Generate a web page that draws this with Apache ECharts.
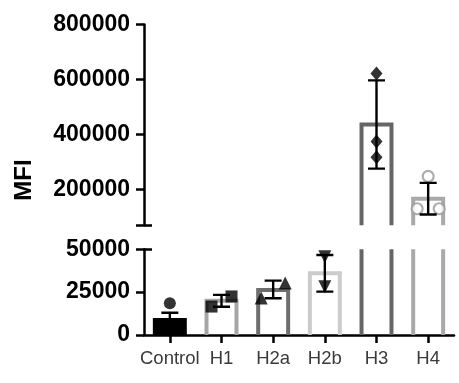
<!DOCTYPE html>
<html>
<head>
<meta charset="utf-8">
<script src="https://cdn.jsdelivr.net/npm/echarts@6/dist/echarts.min.js"></script>
<style>
html,body{margin:0;padding:0;background:#fff;}
#chart{width:459px;height:383px;}
</style>
</head>
<body>
<div id="chart"></div>
<script>
const categories = ['Control', 'H1', 'H2a', 'H2b', 'H3', 'H4'];
const barMeans = [8800, 20000, 26300, 36000, 436000, 166000];
const errLow = [4800, 16500, 21400, 25300, 276000, 109000];
const errHigh = [13000, 23400, 31700, 46700, 597000, 224000];
const pointsControl = [18500, 4000, 4000];
const pointsH1 = [16600, 22500];
const pointsH2a = [21600, 30400];
const pointsH2b = [45700, 28200];
const pointsH3 = [622000, 375000, 317000];
const pointsH4 = [248000, 130000, 130000];
const topTicks = [200000, 400000, 600000, 800000];
const bottomTicks = [0, 25000, 50000];
const topMin = 70000, topMax = 800000;
const bottomMin = 0, bottomMax = 50000;

const FONT = "'Liberation Sans', Arial, sans-serif";
const barColors = ['#000000', '#a6a6a6', '#6e6e6e', '#cccccc', '#666666', '#a9a9a9'];
const pointGroups = [pointsControl, pointsH1, pointsH2a, pointsH2b, pointsH3, pointsH4];
const jitter = [[0, -8, 8], [-10, 10], [-12, 12], [0, 0], [0, 0, 0], [0, -11, 11]];
const symbolStyle = [
  { symbol: 'circle', size: 12, rotate: 0, style: { color: '#000' } },
  { symbol: 'rect', size: 12, rotate: 0, style: { color: '#000' } },
  { symbol: 'triangle', size: 13, rotate: 0, style: { color: '#000' } },
  { symbol: 'triangle', size: 13, rotate: 180, style: { color: '#000' } },
  { symbol: 'diamond', size: [12, 14], rotate: 0, style: { color: '#000' } },
  { symbol: 'circle', size: 11, rotate: 0, style: { color: '#fff', borderColor: '#9a9a9a', borderWidth: 2.2 } }
];

const barData = categories.map((c, i) => [i, barMeans[i]]);
const errData = categories.map((c, i) => [i, errLow[i], errHigh[i]]);
const scatterData = [];
pointGroups.forEach((pts, i) => {
  pts.forEach((v, k) => {
    const s = symbolStyle[i];
    scatterData.push({
      value: [i, v],
      symbol: s.symbol,
      symbolSize: s.size,
      symbolRotate: s.rotate,
      symbolOffset: [jitter[i][k], 0],
      itemStyle: s.style
    });
  });
});

function renderBar(params, api) {
  const i = api.value(0);
  const base = api.coord([i, 0]);
  const top = api.coord([i, api.value(1)]);
  const bw = api.size([1, 0])[0] * 0.58;
  const x0 = base[0] - bw / 2, x1 = base[0] + bw / 2;
  const color = barColors[i];
  if (i === 0) {
    return {
      type: 'rect',
      shape: { x: x0 - 2, y: top[1] - 2, width: bw + 4, height: base[1] - top[1] + 2 },
      style: { fill: color }
    };
  }
  return {
    type: 'polyline',
    shape: { points: [[x0, base[1] + 2], [x0, top[1]], [x1, top[1]], [x1, base[1] + 2]] },
    style: { stroke: color, lineWidth: 4, fill: null, lineJoin: 'miter' }
  };
}

function renderErr(params, api) {
  const i = api.value(0);
  const lo = api.coord([i, api.value(1)]);
  const hi = api.coord([i, api.value(2)]);
  const cw = 8.5;
  const st = { stroke: '#000', lineWidth: 2.4 };
  return {
    type: 'group',
    children: [
      { type: 'line', shape: { x1: lo[0], y1: lo[1], x2: hi[0], y2: hi[1] }, style: st },
      { type: 'line', shape: { x1: lo[0] - cw, y1: lo[1], x2: lo[0] + cw, y2: lo[1] }, style: st },
      { type: 'line', shape: { x1: hi[0] - cw, y1: hi[1], x2: hi[0] + cw, y2: hi[1] }, style: st }
    ]
  };
}

const axisLineStyle = { color: '#000', width: 2.5 };

function mainY(gridIndex, min, max, ticks, tickVals) {
  return {
    type: 'value', gridIndex: gridIndex, min: min, max: max, position: 'left', offset: 0,
    axisLine: { show: true, lineStyle: axisLineStyle },
    axisTick: { show: true, inside: false, length: 8, lineStyle: axisLineStyle, customValues: tickVals },
    axisLabel: {
      show: true, customValues: ticks, margin: 14, color: '#000', fontSize: 23, fontWeight: 'bold', fontFamily: FONT,
      formatter: v => String(v)
    },
    splitLine: { show: false }
  };
}
function capY(gridIndex, min, max, capVal) {
  return {
    type: 'value', gridIndex: gridIndex, min: min, max: max, position: 'left', offset: 0,
    axisLine: { show: false },
    axisTick: { show: true, inside: true, length: 8, lineStyle: axisLineStyle, customValues: [capVal] },
    axisLabel: { show: false },
    splitLine: { show: false }
  };
}

const seriesFor = (xi, yi) => [
  { type: 'custom', xAxisIndex: xi, yAxisIndex: yi, clip: true, renderItem: renderBar, data: barData, z: 2 },
  { type: 'scatter', xAxisIndex: xi, yAxisIndex: yi, clip: true, data: scatterData, z: 3, silent: true },
  { type: 'custom', xAxisIndex: xi, yAxisIndex: yi, clip: true, renderItem: renderErr, data: errData, z: 4 }
];

const chart = echarts.init(document.getElementById('chart'), null, { renderer: 'canvas' });
chart.setOption({
  animation: false,
  backgroundColor: '#fff',
  grid: [
    { left: 144, top: 24.5, width: 310, height: 200.75 },
    { left: 144, top: 249.3, width: 310, height: 85.7 }
  ],
  xAxis: [
    { type: 'category', gridIndex: 0, data: categories, show: false },
    {
      type: 'category', gridIndex: 1, data: categories,
      axisLine: { show: true, lineStyle: axisLineStyle },
      axisTick: { show: true, alignWithLabel: true, length: 8, lineStyle: axisLineStyle },
      axisLabel: { interval: 0, margin: 14, color: '#3a3a3a', fontSize: 18.5, fontFamily: FONT }
    }
  ],
  yAxis: [
    mainY(0, topMin, topMax, topTicks, [topMin].concat(topTicks)),
    capY(0, topMin, topMax, topMin),
    mainY(1, bottomMin, bottomMax, bottomTicks, bottomTicks),
    capY(1, bottomMin, bottomMax, bottomMax)
  ],
  graphic: [
    {
      type: 'text', x: 24, y: 180, rotation: Math.PI / 2,
      style: { text: 'MFI', font: "bold 24px 'Liberation Sans', Arial, sans-serif", fill: '#000', align: 'center', verticalAlign: 'middle' }
    }
  ],
  series: seriesFor(0, 0).concat(seriesFor(1, 2))
});
</script>
</body>
</html>
